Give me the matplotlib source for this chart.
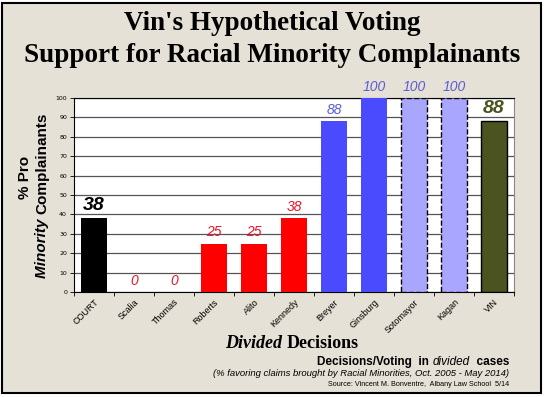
import matplotlib
matplotlib.use("Agg")
import matplotlib.pyplot as plt
from matplotlib.patches import Rectangle

# data
justices = ["COURT", "Scalia", "Thomas", "Roberts", "Alito", "Kennedy",
            "Breyer", "Ginsburg", "Sotomayor", "Kagan", "VIN"]
pct = [38, 0, 0, 25, 25, 38, 88, 100, 100, 100, 88]
bar_colors = ["#000000", "#ff0000", "#ff0000", "#ff0000", "#ff0000", "#ff0000",
              "#4a4aff", "#4a4aff", "#a9a6ff", "#a9a6ff", "#4b531e"]
label_colors = ["#000000", "#e8142a", "#e8142a", "#e8142a", "#e8142a", "#e8142a",
                "#5b5bd0", "#5b5bd0", "#5b5bd0", "#5b5bd0", "#4b531e"]

W, H = 545, 397
bg = "#e6e1d6"
sans = ["Liberation Sans Narrow", "Liberation Sans", "DejaVu Sans"]
wide = ["Liberation Sans", "DejaVu Sans"]
serif = ["Liberation Serif", "DejaVu Serif"]

fig = plt.figure(figsize=(W / 100, H / 100), dpi=100, facecolor="white")
fig.patches.append(Rectangle((2 / W, 4 / H), 539 / W, 390 / H, transform=fig.transFigure,
                             facecolor=bg, edgecolor="black", lw=1.5, zorder=-10))

ax = fig.add_axes([74 / W, 105 / H, 440 / W, 194 / H])
ax.set_facecolor("white")
x = range(len(justices))
for i in x:
    dashed = justices[i] in ("Sotomayor", "Kagan")
    edge = "black" if (dashed or justices[i] == "VIN") else bar_colors[i]
    ax.bar(i, pct[i], width=0.67, color=bar_colors[i], edgecolor=edge,
           linewidth=1.0 if edge == "black" else 0, linestyle="--" if dashed else "-",
           zorder=3)

# value labels
for i in x:
    big = justices[i] in ("COURT", "VIN")
    ax.annotate(str(pct[i]), (i, pct[i]), xytext=(0, 3), textcoords="offset points",
                ha="center", va="bottom", color=label_colors[i],
                fontsize=14 if big else 10, fontweight="bold" if big else "normal",
                style="italic", family=sans, annotation_clip=False)

ax.set_xlim(-0.5, len(justices) - 0.5)
ax.set_ylim(0, 100)
ax.set_yticks(range(0, 101, 10))
ax.tick_params(axis="y", labelsize=4.5, length=3, width=0.6, pad=2)
ax.yaxis.grid(True, color="#555555", lw=0.9, zorder=0)
ax.set_xticks(list(x))
ax.set_xticklabels(justices, rotation=45, ha="right", rotation_mode="anchor",
                   fontsize=6.5, family=wide)
ax.tick_params(axis="x", length=0, pad=4)
ax.set_xticks([i + 0.5 for i in range(-1, len(justices))], minor=True)
ax.tick_params(axis="x", which="minor", length=3, width=0.6, direction="out")
for s in ax.spines.values():
    s.set_linewidth(0.8)
ax.spines["right"].set_color("#888888")

fig.canvas.draw()
rend = fig.canvas.get_renderer()


def run(pieces, x0, y0, align="left", rotate=False):
    # place mixed-style pieces of text one after the other (pixel coords)
    texts = []
    for s, kw in pieces:
        t = fig.text(0, 0, s, transform=None, va="center", ha="left",
                     rotation=90 if rotate else 0, **kw)
        texts.append(t)
    sizes = []
    for t in texts:
        bb = t.get_window_extent(rend)
        sizes.append(bb.height if rotate else bb.width)
    total = sum(sizes)
    pos = x0 if not rotate else y0
    if align == "right":
        pos -= total
    elif align == "center":
        pos -= total / 2
    for t, sz in zip(texts, sizes):
        if rotate:
            t.set_ha("center")
            t.set_va("bottom")
            t.set_position((x0, pos))
        else:
            t.set_position((pos, y0))
        pos += sz


# title
fig.text(0.5, 1 - 23 / H, "Vin's Hypothetical Voting", ha="center", va="center",
         fontsize=19.5, fontweight="bold", family=serif)
fig.text(0.5, 1 - 56 / H, "Support for Racial Minority Complainants", ha="center",
         va="center", fontsize=19.5, fontweight="bold", family=serif)

# y label
fig.text(25 / W, 1 - 177 / H, "% Pro", rotation=90, ha="center", va="center",
         fontsize=11, fontweight="bold", family=wide)
run([("Minority ", dict(fontsize=11, fontweight="bold", style="italic", family=wide)),
     ("Complainants", dict(fontsize=11, fontweight="bold", family=wide))],
    42, H - 195, align="center", rotate=True)

# x label and notes
run([("Divided ", dict(fontsize=13, fontweight="bold", style="italic", family=serif)),
     ("Decisions", dict(fontsize=13, fontweight="bold", family=serif))],
    292, H - 344, align="center")
run([("Decisions/Voting  in ", dict(fontsize=8.5, fontweight="bold", family=wide)),
     ("divided", dict(fontsize=8.5, style="italic", family=wide)),
     ("  cases", dict(fontsize=8.5, fontweight="bold", family=wide))],
    509, H - 362, align="right")
fig.text(509 / W, 1 - 374 / H,
         "(% favoring claims brought by Racial Minorities, Oct. 2005 - May 2014)",
         ha="right", va="center", fontsize=6.8, style="italic", family=wide)
fig.text(509 / W, 1 - 384 / H, "Source: Vincent M. Bonventre,  Albany Law School  5/14",
         ha="right", va="center", fontsize=5.2, family=wide)

fig.savefig("out.png", dpi=100, facecolor="white")
